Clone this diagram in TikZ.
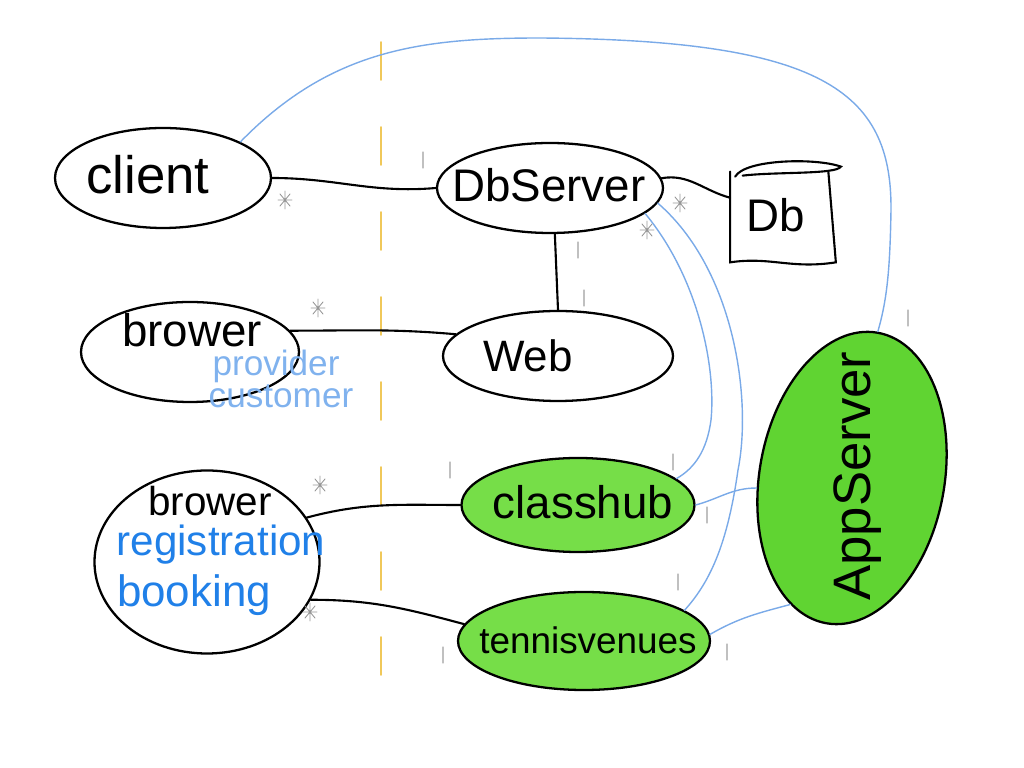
\documentclass[tikz,border=0pt]{standalone}
\usepackage{fontspec}
\setmainfont{Liberation Sans}
\usetikzlibrary{shapes.geometric}
\definecolor{hubgreen}{RGB}{118,222,72}
\definecolor{appgreen}{RGB}{96,212,50}
\definecolor{linkblue}{RGB}{122,170,232}
\definecolor{noteblue}{RGB}{128,178,238}
\definecolor{regblue}{RGB}{32,128,232}
\definecolor{splitline}{RGB}{240,200,90}
\definecolor{pencil}{RGB}{150,150,150}
\tikzstyle{blob} = [ellipse, draw=black, line width=1.3pt, inner sep=0pt]
\tikzstyle{hub} = [blob, fill=hubgreen]
\tikzstyle{hand} = [inner sep=0pt, font=\fontsize{26}{28}\selectfont]
\tikzstyle{link} = [draw=black, line width=1.2pt]
\tikzstyle{call} = [draw=linkblue, line width=0.8pt]

\begin{document}
\begin{tikzpicture}[x=0.2mm, y=-0.2mm, line cap=round]
\useasboundingbox (0,0) rectangle (1024,768);
% split line
\draw[splitline, line width=1pt, dash pattern=on 7.6mm off 9.4mm] (381,42) -- (381,697);

% left side
\node[blob, minimum width=43.2mm, minimum height=20mm] (client) at (163,178) {};
\node[hand, font=\fontsize{30}{32}\selectfont] (client-t) at (148,175) {client};
\node[blob, minimum width=43.6mm, minimum height=20mm] (brower) at (190,352) {};
\node[hand, anchor=base, font=\fontsize{26}{28}\selectfont] (brower-t) at (192,347) {brower};
\node[hand, anchor=base, noteblue, font=\fontsize{20}{22}\selectfont] (provider-t) at (276,376) {provider};
\node[hand, anchor=base, noteblue, font=\fontsize{20}{22}\selectfont] (customer-t) at (281,408) {customer};
\node[blob, minimum width=45mm, minimum height=36.6mm] (brower2) at (207,562) {};
\node[hand, anchor=base, font=\fontsize{23}{25}\selectfont] (brower2-t) at (210,516) {brower};
\node[hand, anchor=base, regblue, font=\fontsize{24}{26}\selectfont] (registration-t) at (221,556) {registration};
\node[hand, anchor=base, regblue, font=\fontsize{25}{27}\selectfont] (booking-t) at (194,607) {booking};

% right side
\node[blob, minimum width=45.2mm, minimum height=18mm] (dbserver) at (550,188) {};
\node[hand] (dbserver-t) at (549,185) {DbServer};
\node[minimum width=21mm, minimum height=18mm, inner sep=0pt] (db) at (783,217) {};
\node[hand] (db-t) at (776,215) {Db};
\node[blob, minimum width=46mm, minimum height=18mm] (web) at (558,356) {};
\node[hand, font=\fontsize{25}{27}\selectfont] (web-t) at (528,356) {Web};
\node[hub, minimum width=46.6mm, minimum height=18.8mm] (classhub) at (578,505) {};
\node[hand] (classhub-t) at (583,502) {classhub};
\node[hub, minimum width=50.4mm, minimum height=19.6mm] (tennisvenues) at (584,641) {};
\node[hand, font=\fontsize{21}{23}\selectfont] (tennisvenues-t) at (588,640) {tennisvenues};
\node[blob, fill=appgreen, minimum width=59mm, minimum height=37mm, rotate=80] (appserver) at (852,478) {};
\node[hand, rotate=90, font=\fontsize{30}{32}\selectfont] (appserver-t) at (858,476) {AppServer};

% db drum
\draw[link] (db.north west) -- (db.south west)
  .. controls ([xshift=8mm,yshift=1.2mm]db.south west) and ([xshift=-9mm,yshift=-1.4mm]db.south east) .. (db.south east)
  -- ([xshift=-1.5mm]db.north east);
\draw[link] ([xshift=1mm,yshift=-1mm]db.north west) .. controls ([xshift=3mm,yshift=2.5mm]db.north west)
  and ([xshift=-4mm,yshift=2.8mm]db.north east) .. ([xshift=1mm,yshift=1mm]db.north east)
  .. controls ([xshift=0mm,yshift=-0.6mm]db.north east) and ([xshift=-12mm,yshift=0mm]db.north east) .. ([xshift=2.5mm,yshift=-0.8mm]db.north west);

% black links
\draw[link] (client.east) to[out=0, in=185] (dbserver.west);
\draw[link] (dbserver.5) to[out=10, in=165] (db.160);
\draw[link] (dbserver.-84) -- (web.north);
\draw[link] (brower.12) to[out=0, in=175] (web.168);
\draw[link] (brower2.24) to[out=15, in=180] (classhub.west);
\draw[link] (brower2.-20) to[out=0, in=165] (tennisvenues.172);

% blue links
\draw[call] (client.25) .. controls (330,50) and (420,38) .. (540,38)
  .. controls (820,40) and (892,90) .. (891,210)
  .. controls (890,270) and (887,300) .. (appserver.east);
\draw[call] (dbserver.-8) .. controls (735,270) and (752,400) .. (738,470)
  .. controls (728,540) and (712,580) .. (tennisvenues.17);
\draw[call] (dbserver.-15) .. controls (700,280) and (716,370) .. (711,420)
  .. controls (707,450) and (695,468) .. (classhub.15);
\draw[call] (classhub.east) to[out=15, in=180] (appserver.106);
\draw[call] (tennisvenues.3) to[out=30, in=195] (appserver.164);

% pencil marks
\foreach \x/\y in {285/200, 318/308, 320/485, 310/612, 680/203, 647/230}
  \draw[pencil, line width=0.5pt] (\x-7,\y) -- (\x+7,\y) (\x,\y-9) -- (\x,\y+9)
    (\x-5,\y-6) -- (\x+5,\y+6) (\x+5,\y-6) -- (\x-5,\y+6);
\foreach \x/\y in {423/160, 578/250, 584/298, 450/470, 673/462, 707/515, 678/582, 727/652, 443/655, 908/318}
  \draw[pencil!60, line width=0.6pt] (\x,\y-8) -- (\x,\y+8);
\end{tikzpicture}
\end{document}
